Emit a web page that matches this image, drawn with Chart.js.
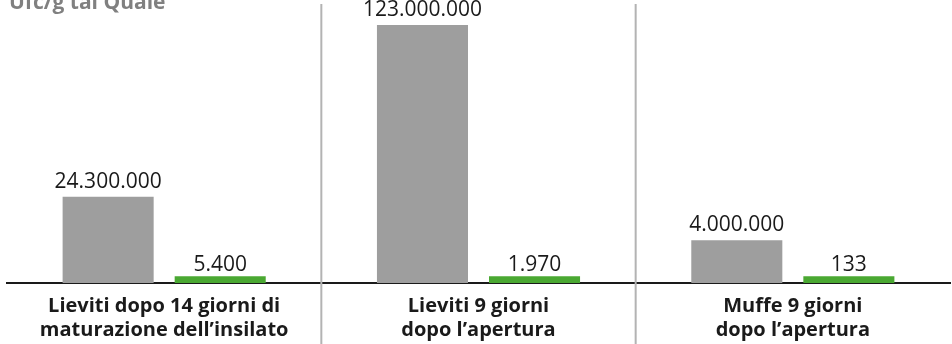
<!DOCTYPE html>
<html>
<head>
<meta charset="utf-8">
<script src="https://cdn.jsdelivr.net/npm/chart.js@4/dist/chart.umd.min.js"></script>
<style>
    html, body { margin: 0; padding: 0; background: #ffffff; }
    #wrap { width: 952px; height: 344px; position: relative; }
</style>
</head>
<body>
<div id="wrap"><canvas id="chart"></canvas></div>
<script>
// Chart data
const categories = [
    ['Lieviti dopo 14 giorni di', 'maturazione dell\u2019insilato'],
    ['Lieviti 9 giorni', 'dopo l\u2019apertura'],
    ['Muffe 9 giorni', 'dopo l\u2019apertura']
];
const grayValues = [24300000, 123000000, 4000000];
const greenValues = [5400, 1970, 133];
// bar heights as drawn in the picture (% of the tallest bar) - the original is not to scale
const grayHeights = [33.4, 100, 16.6];
const greenHeights = [2.6, 2.6, 2.6];
const yTicks = [0, 100];

const titleText = 'Ufc/g tal Quale';

function formatIt(v) {
    return String(v).replace(/\B(?=(\d{3})+(?!\d))/g, '.');
}

// value labels over the bars
const valueLabels = {
    id: 'valueLabels',
    afterDatasetsDraw(chart) {
        const ctx = chart.ctx;
        ctx.save();
        ctx.font = '21px "Open Sans"';
        ctx.fillStyle = '#1a1a1a';
        ctx.textAlign = 'center';
        ctx.textBaseline = 'alphabetic';
        chart.data.datasets.forEach((ds, di) => {
            const meta = chart.getDatasetMeta(di);
            meta.data.forEach((bar, i) => {
                ctx.fillText(formatIt(ds.realValues[i]), bar.x, bar.y - ds.labelGap);
            });
        });
        ctx.restore();
    }
};

// separators between categories + cropped title
const decorations = {
    id: 'decorations',
    beforeDatasetsDraw(chart) {
        const ctx = chart.ctx;
        const x = chart.scales.x;
        ctx.save();
        ctx.strokeStyle = '#b3b3b3';
        ctx.lineWidth = 2;
        for (let i = 0; i < categories.length - 1; i++) {
            const px = (x.getPixelForValue(i) + x.getPixelForValue(i + 1)) / 2;
            ctx.beginPath();
            ctx.moveTo(px, 4);
            ctx.lineTo(px, chart.height);
            ctx.stroke();
        }
        ctx.font = 'bold 21px "Open Sans"';
        ctx.fillStyle = '#808080';
        ctx.textAlign = 'left';
        ctx.textBaseline = 'alphabetic';
        ctx.fillText(titleText, 9, 9);
        ctx.restore();
    }
};

const config = {
    type: 'bar',
    data: {
        labels: categories,
        datasets: [{
            label: 'grigio',
            data: grayHeights,
            realValues: grayValues,
            labelGap: 9,
            backgroundColor: '#9e9e9e',
            borderWidth: 0
        }, {
            label: 'verde',
            data: greenHeights,
            realValues: greenValues,
            labelGap: 5,
            backgroundColor: '#4aa832',
            borderWidth: 0
        }]
    },
    options: {
        responsive: true,
        maintainAspectRatio: false,
        animation: false,
        categoryPercentage: 0.713,
        barPercentage: 0.8125,
        layout: {
            padding: { top: 25, left: 7, right: 2, bottom: -9 }
        },
        plugins: {
            legend: { display: false },
            tooltip: { enabled: false },
            title: { display: false }
        },
        scales: {
            x: {
                grid: { display: false, drawTicks: false },
                border: { display: true, color: '#1a1a1a', width: 2 },
                ticks: {
                    color: '#1a1a1a',
                    padding: 11,
                    maxRotation: 0,
                    autoSkip: false,
                    font: { family: '"Open Sans"', size: 20, weight: 'bold', lineHeight: 1.2 }
                }
            },
            y: {
                display: false,
                min: yTicks[0],
                max: yTicks[1]
            }
        }
    },
    plugins: [decorations, valueLabels]
};

new Chart(document.getElementById('chart'), config);
</script>
</body>
</html>
